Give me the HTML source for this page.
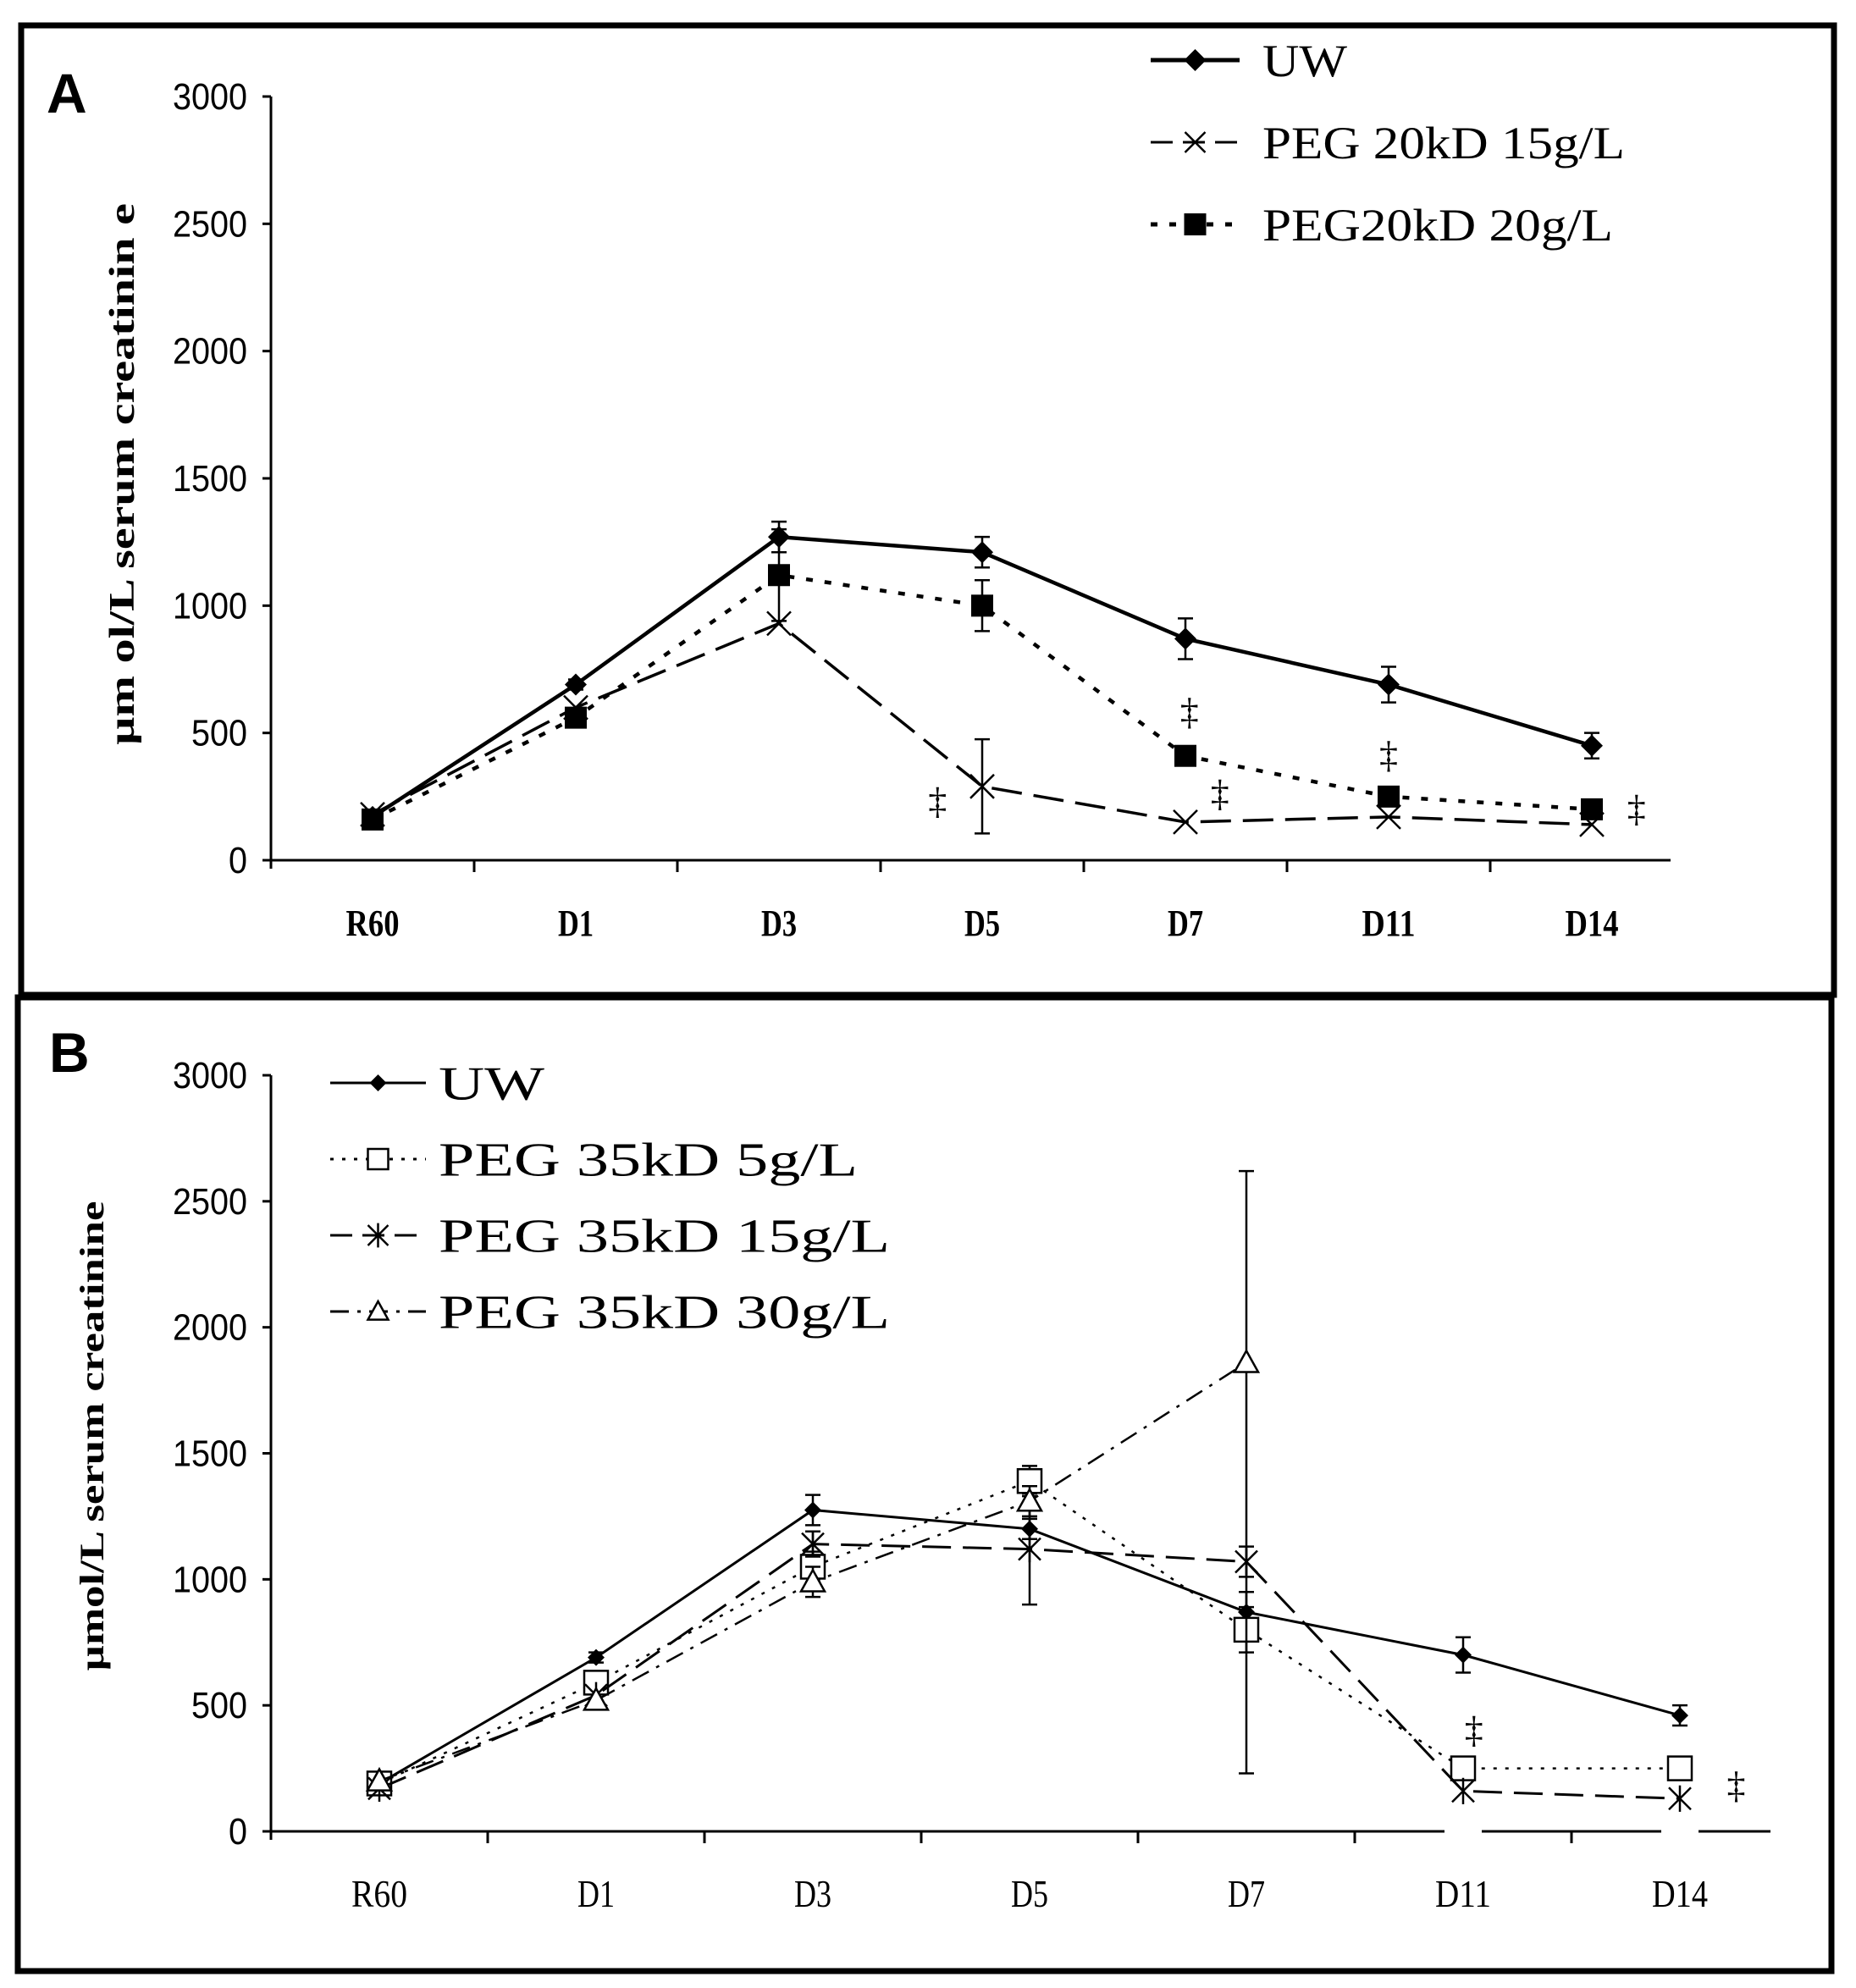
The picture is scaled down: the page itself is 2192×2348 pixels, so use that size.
<!DOCTYPE html>
<html><head><meta charset="utf-8"><style>
html,body{margin:0;padding:0;background:#fff;}
svg{display:block;}
</style></head><body>
<svg id="fig" width="2192" height="2348" viewBox="0 0 2192 2348" xmlns="http://www.w3.org/2000/svg">
<rect x="25" y="30" width="2141" height="1145" fill="none" stroke="#000" stroke-width="7"/>
<rect x="21" y="1178" width="2142" height="1150" fill="none" stroke="#000" stroke-width="7"/>
<text x="55" y="133" font-family="Liberation Sans, sans-serif" font-weight="bold" font-size="66">A</text>
<text x="58" y="1266" font-family="Liberation Sans, sans-serif" font-weight="bold" font-size="66">B</text>
<g id="ga"></g>
<g id="gb"></g>
</svg>
<script>
const categories = ["R60","D1","D3","D5","D7","D11","D14"];
const yTicks = [0,500,1000,1500,2000,2500,3000];
// Panel A
const aUW = [170,690,1270,1210,870,690,450];
const aUWerr = [0,20,60,60,80,70,50];
const aP15 = [180,600,930,290,150,170,140];
const aP15err = [0,0,0,185,0,0,0];
const aP20 = [160,560,1120,1000,410,250,200];
const aP20err = [0,0,180,100,0,0,0];
const aDaggerX = [3,4,4,5,6];
const aDaggerV = [230,580,260,410,200];
const aDaggerOff = [-0.22,0.02,0.17,0,0.22];
// Panel B
const bUW = [190,690,1275,1200,870,700,460];
const bUWerr = [0,20,60,40,80,70,40];
const b5 = [190,590,1050,1390,800,250,250];
const b5err = [0,30,60,60,90,40,40];
const b15 = [170,540,1140,1120,1070,160,130];
const b15err = [0,0,50,220,60,0,0];
const b30 = [200,520,990,1310,1860,0,0];
const b30err = [0,0,60,60,760,0,0];
const b30errLow = [0,0,60,60,1630,0,0];
const bDaggerX = [5,6];
const bDaggerV = [400,180];
const bDaggerOff = [0.05,0.26];

const NS="http://www.w3.org/2000/svg";
function mk(parent,tag,attrs){const e=document.createElementNS(NS,tag);for(const k in attrs)e.setAttribute(k,attrs[k]);parent.appendChild(e);return e;}

function panel(g,cfg){
  const xs=i=>cfg.x0+cfg.band*(i+0.5);
  const ys=v=>cfg.yb-(v/3000)*(cfg.yb-cfg.yt);
  let ax=mk(g,'line',{x1:cfg.x0,y1:cfg.yt,x2:cfg.x0,y2:cfg.yb+10,stroke:'#000','stroke-width':3});
  
  
  let bx=mk(g,'line',{x1:cfg.x0,y1:cfg.yb,x2:cfg.xe,y2:cfg.yb,stroke:'#000','stroke-width':3});
  
  
  yTicks.forEach(v=>{
    mk(g,'line',{x1:cfg.x0-10,y1:ys(v),x2:cfg.x0,y2:ys(v),stroke:'#000','stroke-width':3});
    const t=mk(g,'text',{x:cfg.x0-28,y:ys(v)+15,'text-anchor':'end','font-family':'Liberation Sans, sans-serif','font-size':cfg.tf,textLength:String(v).length*cfg.tw,lengthAdjust:'spacingAndGlyphs'});
    t.textContent=v;
    
    
  });
  for(let i=1;i<categories.length;i++){
    mk(g,'line',{x1:cfg.x0+cfg.band*i,y1:cfg.yb,x2:cfg.x0+cfg.band*i,y2:cfg.yb+14,stroke:'#000','stroke-width':3});
  }
  categories.forEach((c,i)=>{
    const t=mk(g,'text',{x:xs(i),y:cfg.cy,'text-anchor':'middle','font-family':'Liberation Serif, serif','font-size':cfg.cf,'font-weight':cfg.cb||'normal',textLength:c.length*cfg.cw,lengthAdjust:'spacingAndGlyphs'});
    t.textContent=c;
    
    
  });
  const yt=mk(g,'text',{transform:`translate(${cfg.tx},${cfg.ty}) rotate(-90)`,'text-anchor':'middle','font-family':'Liberation Serif, serif','font-weight':'bold','font-size':cfg.ttf,textLength:cfg.ttl,lengthAdjust:'spacingAndGlyphs'});
  yt.textContent=cfg.title;
  
  

  cfg.series.forEach(s=>{
    const sg=mk(g,'g',{});
    
    
    const pts=[];
    s.v.forEach((v,i)=>{ if(v>0) pts.push(xs(i)+','+ys(v)); });
    mk(sg,'polyline',{points:pts.join(' '),fill:'none',stroke:'#000','stroke-width':s.w,'stroke-dasharray':s.dash||'none'});
    s.v.forEach((v,i)=>{
      const x=xs(i),y=ys(v),e=s.e[i],el=s.el?s.el[i]:e;
      if(v<=0){ mk(sg,'rect',{x:x-22,y:y-14,width:44,height:28,fill:'#fff'}); return; }
      if(e>0||el>0){
        mk(sg,'line',{x1:x,y1:ys(v-el),x2:x,y2:ys(v+e),stroke:'#000','stroke-width':2.5});
        mk(sg,'line',{x1:x-9,y1:ys(v-el),x2:x+9,y2:ys(v-el),stroke:'#000','stroke-width':2.5});
        mk(sg,'line',{x1:x-9,y1:ys(v+e),x2:x+9,y2:ys(v+e),stroke:'#000','stroke-width':2.5});
      }
      marker(sg,s.m,x,y,s.ms);
    });
  });
  cfg.daggers[0].forEach((ci,k)=>{
    const t=mk(g,'text',{x:xs(ci)+cfg.band*cfg.daggers[2][k],y:ys(cfg.daggers[1][k])+14,'text-anchor':'middle','font-family':'Liberation Serif, serif','font-size':44});
    t.textContent='‡';
    
    
  });
  cfg.legend.forEach((l,k)=>{
    const lg=mk(g,'g',{});
    
    
    const y=cfg.ly+k*cfg.lstep;
    mk(lg,'line',{x1:cfg.lx1,y1:y,x2:cfg.lx2,y2:y,stroke:'#000','stroke-width':l.w,'stroke-dasharray':l.dash||'none'});
    marker(lg,l.m,(cfg.lx1+cfg.lx2)/2,y,l.ms);
    const t=mk(lg,'text',{x:cfg.lx2+cfg.lgap,y:y+cfg.lf*0.35,'font-family':'Liberation Serif, serif','font-size':cfg.lf,textLength:l.tl,lengthAdjust:'spacingAndGlyphs'});
    t.textContent=l.t;
  });
}
function marker(g,m,x,y,s){
  if(m==='diamond') mk(g,'polygon',{points:`${x},${y-s} ${x+s},${y} ${x},${y+s} ${x-s},${y}`,fill:'#000'});
  else if(m==='square') mk(g,'rect',{x:x-s,y:y-s,width:2*s,height:2*s,fill:'#000'});
  else if(m==='osquare') mk(g,'rect',{x:x-s,y:y-s,width:2*s,height:2*s,fill:'#fff',stroke:'#000','stroke-width':2.5});
  else if(m==='x'){mk(g,'line',{x1:x-s,y1:y-s,x2:x+s,y2:y+s,stroke:'#000','stroke-width':2.5});mk(g,'line',{x1:x-s,y1:y+s,x2:x+s,y2:y-s,stroke:'#000','stroke-width':2.5});}
  else if(m==='star'){mk(g,'line',{x1:x-s,y1:y-s,x2:x+s,y2:y+s,stroke:'#000','stroke-width':2.5});mk(g,'line',{x1:x-s,y1:y+s,x2:x+s,y2:y-s,stroke:'#000','stroke-width':2.5});mk(g,'line',{x1:x,y1:y-s*1.2,x2:x,y2:y+s*1.2,stroke:'#000','stroke-width':2.5});}
  else if(m==='tri') mk(g,'polygon',{points:`${x},${y-s} ${x+s},${y+s*0.8} ${x-s},${y+s*0.8}`,fill:'#fff',stroke:'#000','stroke-width':2.5});
}

panel(document.getElementById('ga'),{
  x0:320,xe:1973,band:240,yb:1016,yt:114,tf:44,tw:22,cf:44,cw:21,cb:'bold',cy:1105,
  tx:158,ty:560,ttf:42,ttl:640,title:'µm ol/L serum creatinin e',
  series:[
    {name:'uw',v:aUW,e:aUWerr,m:'diamond',ms:13,w:4.5},
    {name:'peg20-15',v:aP15,e:aP15err,m:'x',ms:14,w:3.5,dash:'36 14'},
    {name:'peg20-20',v:aP20,e:aP20err,m:'square',ms:13,w:4.5,dash:'8 14'}
  ],
  daggers:[aDaggerX,aDaggerV,aDaggerOff],
  legend:[
    {t:'UW',m:'diamond',ms:13,w:5,tl:100},
    {t:'PEG 20kD 15g/L',m:'x',ms:12,w:3,dash:'26 12',tl:428},
    {t:'PEG20kD 20g/L',m:'square',ms:13,w:5,dash:'8 14',tl:414}
  ],
  lx1:1359,lx2:1464,ly:71,lstep:97,lf:54,lgap:27
});
panel(document.getElementById('gb'),{
  x0:320,xe:2091,band:256,yb:2163,yt:1270,tf:44,tw:22,cf:46,cw:22,cy:2252,
  tx:122,ty:1696,ttf:40,ttl:555,title:'µmol/L serum creatinine',
  series:[
    {name:'uw',v:bUW,e:bUWerr,m:'diamond',ms:10,w:3},
    {name:'peg35-5',v:b5,e:b5err,m:'osquare',ms:14,w:2.5,dash:'4 10'},
    {name:'peg35-15',v:b15,e:b15err,m:'star',ms:13,w:3,dash:'34 14'},
    {name:'peg35-30',v:b30,e:b30err,el:b30errLow,m:'tri',ms:14,w:2.5,dash:'22 10 4 10'}
  ],
  daggers:[bDaggerX,bDaggerV,bDaggerOff],
  legend:[
    {t:'UW',m:'diamond',ms:10,w:3,tl:125},
    {t:'PEG 35kD 5g/L',m:'osquare',ms:12,w:3,dash:'4 10',tl:495},
    {t:'PEG 35kD 15g/L',m:'star',ms:12,w:3,dash:'26 12',tl:533},
    {t:'PEG 35kD 30g/L',m:'tri',ms:12,w:3,dash:'22 10 4 10',tl:533}
  ],
  lx1:390,lx2:503,ly:1279,lstep:90,lf:56,lgap:15
});
</script>
</body></html>
